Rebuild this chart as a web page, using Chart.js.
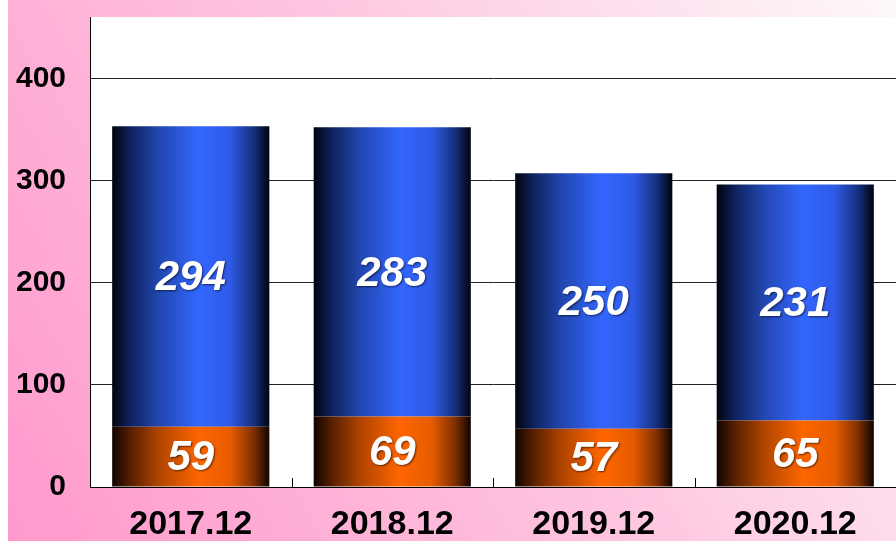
<!DOCTYPE html>
<html>
<head>
<meta charset="utf-8">
<script src="https://cdn.jsdelivr.net/npm/chart.js@4"></script>
<style>
  html, body { margin: 0; padding: 0; }
  #wrap { width: 896px; height: 541px; }
</style>
</head>
<body>
<div id="wrap"><canvas id="chart_a"></canvas></div>
<script>
// data
var labels = ['2017.12', '2018.12', '2019.12', '2020.12'];
var orangeValues = [59, 69, 57, 65];
var blueValues = [294, 283, 250, 231];
var yTicks = [0, 100, 200, 300, 400];
var yMax = 460;

var barPct = 0.78;

// cylinder look: dark edges, bright middle
function cylinder(context, stops) {
  var chart = context.chart;
  var x = chart.scales.x;
  if (!x || !chart.chartArea) return stops[0][1];
  var cx = x.getPixelForValue(context.dataIndex);
  var w = (x.width / labels.length) * barPct;
  var g = chart.ctx.createLinearGradient(cx - w / 2, 0, cx + w / 2, 0);
  stops.forEach(function(s) { g.addColorStop(s[0], s[1]); });
  return g;
}
var blueStops = [[0, '#00040c'], [0.12, '#0f2360'], [0.3, '#2247b0'], [0.55, '#3366ff'], [0.75, '#2e5ae6'], [0.9, '#15307f'], [1, '#00040c']];
var orangeStops = [[0, '#100400'], [0.12, '#5a2000'], [0.3, '#b04500'], [0.55, '#ff6600'], [0.75, '#e65c00'], [0.9, '#7f3000'], [1, '#100400']];

var bgPlugin = {
  id: 'bg',
  beforeDraw: function(chart) {
    var ctx = chart.ctx, a = chart.chartArea;
    var g = ctx.createLinearGradient(8, chart.height, chart.width, 0);
    g.addColorStop(0, '#ff99cc');
    g.addColorStop(0.5, '#fec4df');
    g.addColorStop(1, '#fdf8fa');
    ctx.save();
    ctx.fillStyle = '#ffffff';
    ctx.fillRect(0, 0, chart.width, chart.height);
    ctx.fillStyle = g;
    ctx.fillRect(8, 0, chart.width - 8, chart.height);
    ctx.fillStyle = '#ffffff';
    ctx.fillRect(a.left, a.top, a.right - a.left, a.bottom - a.top);
    ctx.restore();
  }
};

// small upward tick marks at category boundaries + value labels
var marksPlugin = {
  id: 'marks',
  afterDatasetsDraw: function(chart) {
    var ctx = chart.ctx, x = chart.scales.x, a = chart.chartArea;
    ctx.save();
    ctx.strokeStyle = '#000';
    ctx.lineWidth = 1;
    for (var i = 1; i < labels.length; i++) {
      var px = Math.round(x.getPixelForValue(i - 0.5)) + 0.5;
      ctx.beginPath();
      ctx.moveTo(px, a.bottom);
      ctx.lineTo(px, a.bottom - 9);
      ctx.stroke();
    }
    ctx.font = 'italic bold 42px "Liberation Sans", Arial, sans-serif';
    ctx.textAlign = 'center';
    ctx.textBaseline = 'middle';
    ctx.fillStyle = '#ffffff';
    ctx.shadowColor = 'rgba(0,0,0,0.6)';
    ctx.shadowBlur = 2;
    ctx.shadowOffsetX = 1;
    ctx.shadowOffsetY = 1;
    chart.data.datasets.forEach(function(ds, di) {
      var meta = chart.getDatasetMeta(di);
      meta.data.forEach(function(bar, i) {
        var p = bar.getProps(['x', 'y', 'base'], true);
        ctx.fillText(String(ds.data[i]), p.x, (p.y + p.base) / 2 + 2);
      });
    });
    ctx.restore();
  }
};

new Chart(document.getElementById('chart_a').getContext('2d'), {
  type: 'bar',
  data: {
    labels: labels,
    datasets: [{
      data: orangeValues,
      backgroundColor: function(c) { return cylinder(c, orangeStops); },
      borderWidth: 0
    }, {
      data: blueValues,
      backgroundColor: function(c) { return cylinder(c, blueStops); },
      borderWidth: 0
    }]
  },
  options: {
    responsive: true,
    maintainAspectRatio: false,
    animation: false,
    layout: { padding: { top: 17, right: 0, left: 0, bottom: 0 } },
    plugins: { legend: { display: false }, tooltip: { enabled: false } },
    datasets: { bar: { categoryPercentage: 1, barPercentage: barPct } },
    scales: {
      x: {
        stacked: true,
        grid: { display: false },
        border: { display: true, color: '#000', width: 1 },
        ticks: {
          color: '#000',
          padding: 9,
          font: { family: '"Liberation Sans", Arial, sans-serif', size: 34, weight: 'bold' }
        },
        afterFit: function(s) { s.height = 54; s.paddingLeft = 0; s.paddingRight = 0; }
      },
      y: {
        stacked: true,
        min: 0,
        max: yMax,
        afterBuildTicks: function(s) { s.ticks = yTicks.map(function(v) { return { value: v }; }); },
        grid: { color: '#222', lineWidth: 1, drawTicks: false },
        border: { display: true, color: '#000', width: 1 },
        ticks: {
          color: '#000',
          padding: 24,
          font: { family: '"Liberation Sans", Arial, sans-serif', size: 30, weight: 'bold' }
        },
        afterFit: function(s) { s.width = 90; s.paddingTop = 0; s.paddingBottom = 0; }
      }
    }
  },
  plugins: [bgPlugin, marksPlugin]
});
</script>
</body>
</html>
